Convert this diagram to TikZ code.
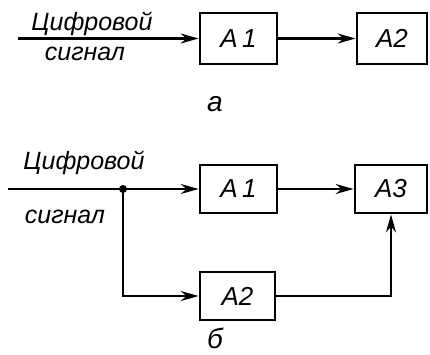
\documentclass[tikz,border=0pt]{standalone}
\usepackage{fontspec}
\setmainfont{Liberation Sans}
\usetikzlibrary{arrows.meta}
\begin{document}
\begin{tikzpicture}[x=1pt,y=-1pt,
  blk/.style={draw,line width=2.8pt,minimum height=48pt,inner sep=0pt,font=\fontsize{26}{26}\selectfont\itshape},
  wire/.style={line width=2.2pt},
  arr/.style={wire,-{Stealth[length=18pt,width=10pt,inset=6pt]}},
  lbl/.style={font=\fontsize{25}{25}\selectfont\itshape,inner sep=0pt}]
\useasboundingbox (0,0) rectangle (430,354);
% part a
\node[blk,minimum width=77pt,minimum height=51pt] (a1) at (238.5,38.5) {A\,1};
\node[blk,minimum width=70pt,minimum height=51pt] (a2) at (392,38.5) {A2};
\coordinate (ina) at (18,38.5);
\draw[arr] (ina) -- (a1.west);
\draw[arr] (a1.east) -- (a2.west);
\node[lbl] (ta1) at (92,24) {Цифровой};
\node[lbl] (ta2) at (85,54) {сигнал};
\node[lbl,font=\fontsize{28}{28}\selectfont\itshape] (la) at (215,104) {а};
% part b
\node[blk,minimum width=77pt] (b1) at (238.5,189) {A\,1};
\node[blk,minimum width=72pt] (b3) at (391,189) {A3};
\node[blk,minimum width=75pt] (b2) at (237.5,296) {A2};
\coordinate (inb) at (8,189);
\coordinate (dot) at (123,189);
\draw[wire] (inb) -- (dot);
\draw[arr] (dot) -- (b1.west);
\draw[arr] (dot) |- (b2.west);
\draw[arr] (b1.east) -- (b3.west);
\draw[arr] (b2.east) -| (b3.south);
\fill (dot) circle (4pt);
\node[lbl] (tb1) at (84,163) {Цифровой};
\node[lbl] (tb2) at (65,217) {сигнал};
\node[lbl,font=\fontsize{28}{28}\selectfont\itshape] (lb) at (215,338) {б};
\end{tikzpicture}
\end{document}
